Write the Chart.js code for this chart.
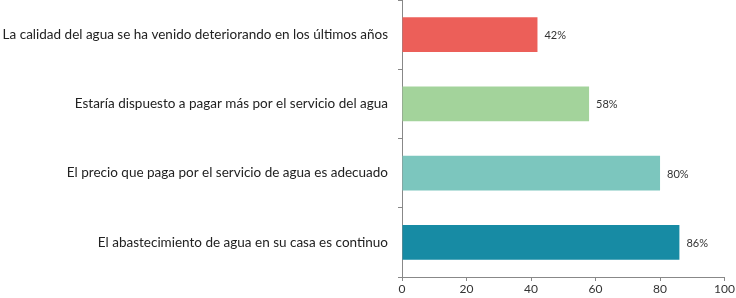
<!DOCTYPE html>
<html>
<head>
<meta charset="utf-8">
<script src="https://cdn.jsdelivr.net/npm/chart.js@4"></script>
<style>
  html, body { margin: 0; padding: 0; background: #fff; }
  #wrap { width: 736px; height: 298px; }
</style>
</head>
<body>
<div id="wrap"><canvas id="chart"></canvas></div>
<script>
// data
const labels = [
  'La calidad del agua se ha venido deteriorando en los últimos años',
  'Estaría dispuesto a pagar más por el servicio del agua',
  'El precio que paga por el servicio de agua es adecuado',
  'El abastecimiento de agua en su casa es continuo'
];
const values = [42, 58, 80, 86];
const barColors = ['#ec5f59', '#a3d39b', '#7cc6be', '#178ba4'];
const xTicks = [0, 20, 40, 60, 80, 100];

const FONT = 'Lato, "Open Sans", sans-serif';

// draw the % labels next to each bar
const valueLabels = {
  id: 'valueLabels',
  afterDatasetsDraw(chart) {
    const ctx = chart.ctx;
    const meta = chart.getDatasetMeta(0);
    ctx.save();
    ctx.font = '11px ' + FONT;
    ctx.fillStyle = '#333';
    ctx.textBaseline = 'middle';
    meta.data.forEach((bar, i) => {
      ctx.fillText(values[i] + '%', bar.x + 7, bar.y + 1);
    });
    ctx.restore();
  }
};

new Chart(document.getElementById('chart'), {
  type: 'bar',
  data: {
    labels: labels,
    datasets: [{
      data: values,
      backgroundColor: barColors,
      barPercentage: 0.5,
      categoryPercentage: 1
    }]
  },
  options: {
    indexAxis: 'y',
    responsive: true,
    maintainAspectRatio: false,
    animation: false,
    layout: { padding: { top: 0, right: 10, left: 0, bottom: 0 } },
    plugins: { legend: { display: false }, tooltip: { enabled: false } },
    scales: {
      x: {
        min: 0,
        max: 100,
        afterBuildTicks: (axis) => { axis.ticks = xTicks.map(v => ({ value: v })); },
        afterFit: (axis) => { axis.height = 21; },
        grid: { drawOnChartArea: false, drawTicks: true, tickLength: 4, color: '#888' },
        border: { color: '#888' },
        ticks: { color: '#333', font: { family: FONT, size: 12 }, padding: 1, maxRotation: 0 }
      },
      y: {
        afterFit: (axis) => { axis.width = 402; axis.paddingTop = 0; axis.paddingBottom = 0; },
        grid: { offset: true, drawOnChartArea: false, drawTicks: true, tickLength: 4, color: '#888' },
        border: { color: '#888' },
        ticks: { color: '#222', font: { family: FONT, size: 13.5 }, padding: 10 }
      }
    }
  },
  plugins: [valueLabels]
});
</script>
</body>
</html>
